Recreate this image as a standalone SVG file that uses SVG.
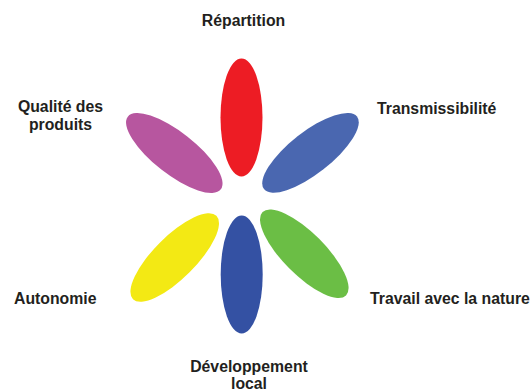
<svg xmlns="http://www.w3.org/2000/svg" width="531" height="390" viewBox="0 0 531 390">
<style>
.lbl{font-family:"Liberation Sans",Arial,sans-serif;font-weight:bold;font-size:15.8px;fill:#231f20}
.mid{text-anchor:middle}
</style>
<rect width="531" height="390" fill="#ffffff"/>
<g id="connectors"></g>
<g id="repartition">
<ellipse cx="241.5" cy="117.5" rx="21" ry="59" fill="#ed1c24"/>
<text class="lbl mid" x="243.5" y="26">Répartition</text>
</g>
<g id="transmissibilite">
<ellipse cx="310.5" cy="152.8" rx="59" ry="21" transform="rotate(-38 310.5 152.8)" fill="#4a67b0"/>
<text class="lbl" x="377" y="114">Transmissibilité</text>
</g>
<g id="qualite">
<ellipse cx="174.3" cy="153" rx="59" ry="21" transform="rotate(38 174.3 153)" fill="#b7569f"/>
<text class="lbl mid" x="60.5" y="112">Qualité des</text>
<text class="lbl mid" x="60.5" y="130">produits</text>
</g>
<g id="autonomie">
<ellipse cx="174.7" cy="257.5" rx="59" ry="21" transform="rotate(-45 174.7 257.5)" fill="#f3e914"/>
<text class="lbl" x="14" y="303.5">Autonomie</text>
</g>
<g id="travail">
<ellipse cx="304.3" cy="253.7" rx="59" ry="21" transform="rotate(45 304.3 253.7)" fill="#6bbe45"/>
<text class="lbl" x="370" y="303.5">Travail avec la nature</text>
</g>
<g id="developpement">
<ellipse cx="241.7" cy="274.5" rx="21" ry="59" fill="#3451a3"/>
<text class="lbl mid" x="249" y="371.5">Développement</text>
<text class="lbl mid" x="249" y="389">local</text>
</g>
</svg>
